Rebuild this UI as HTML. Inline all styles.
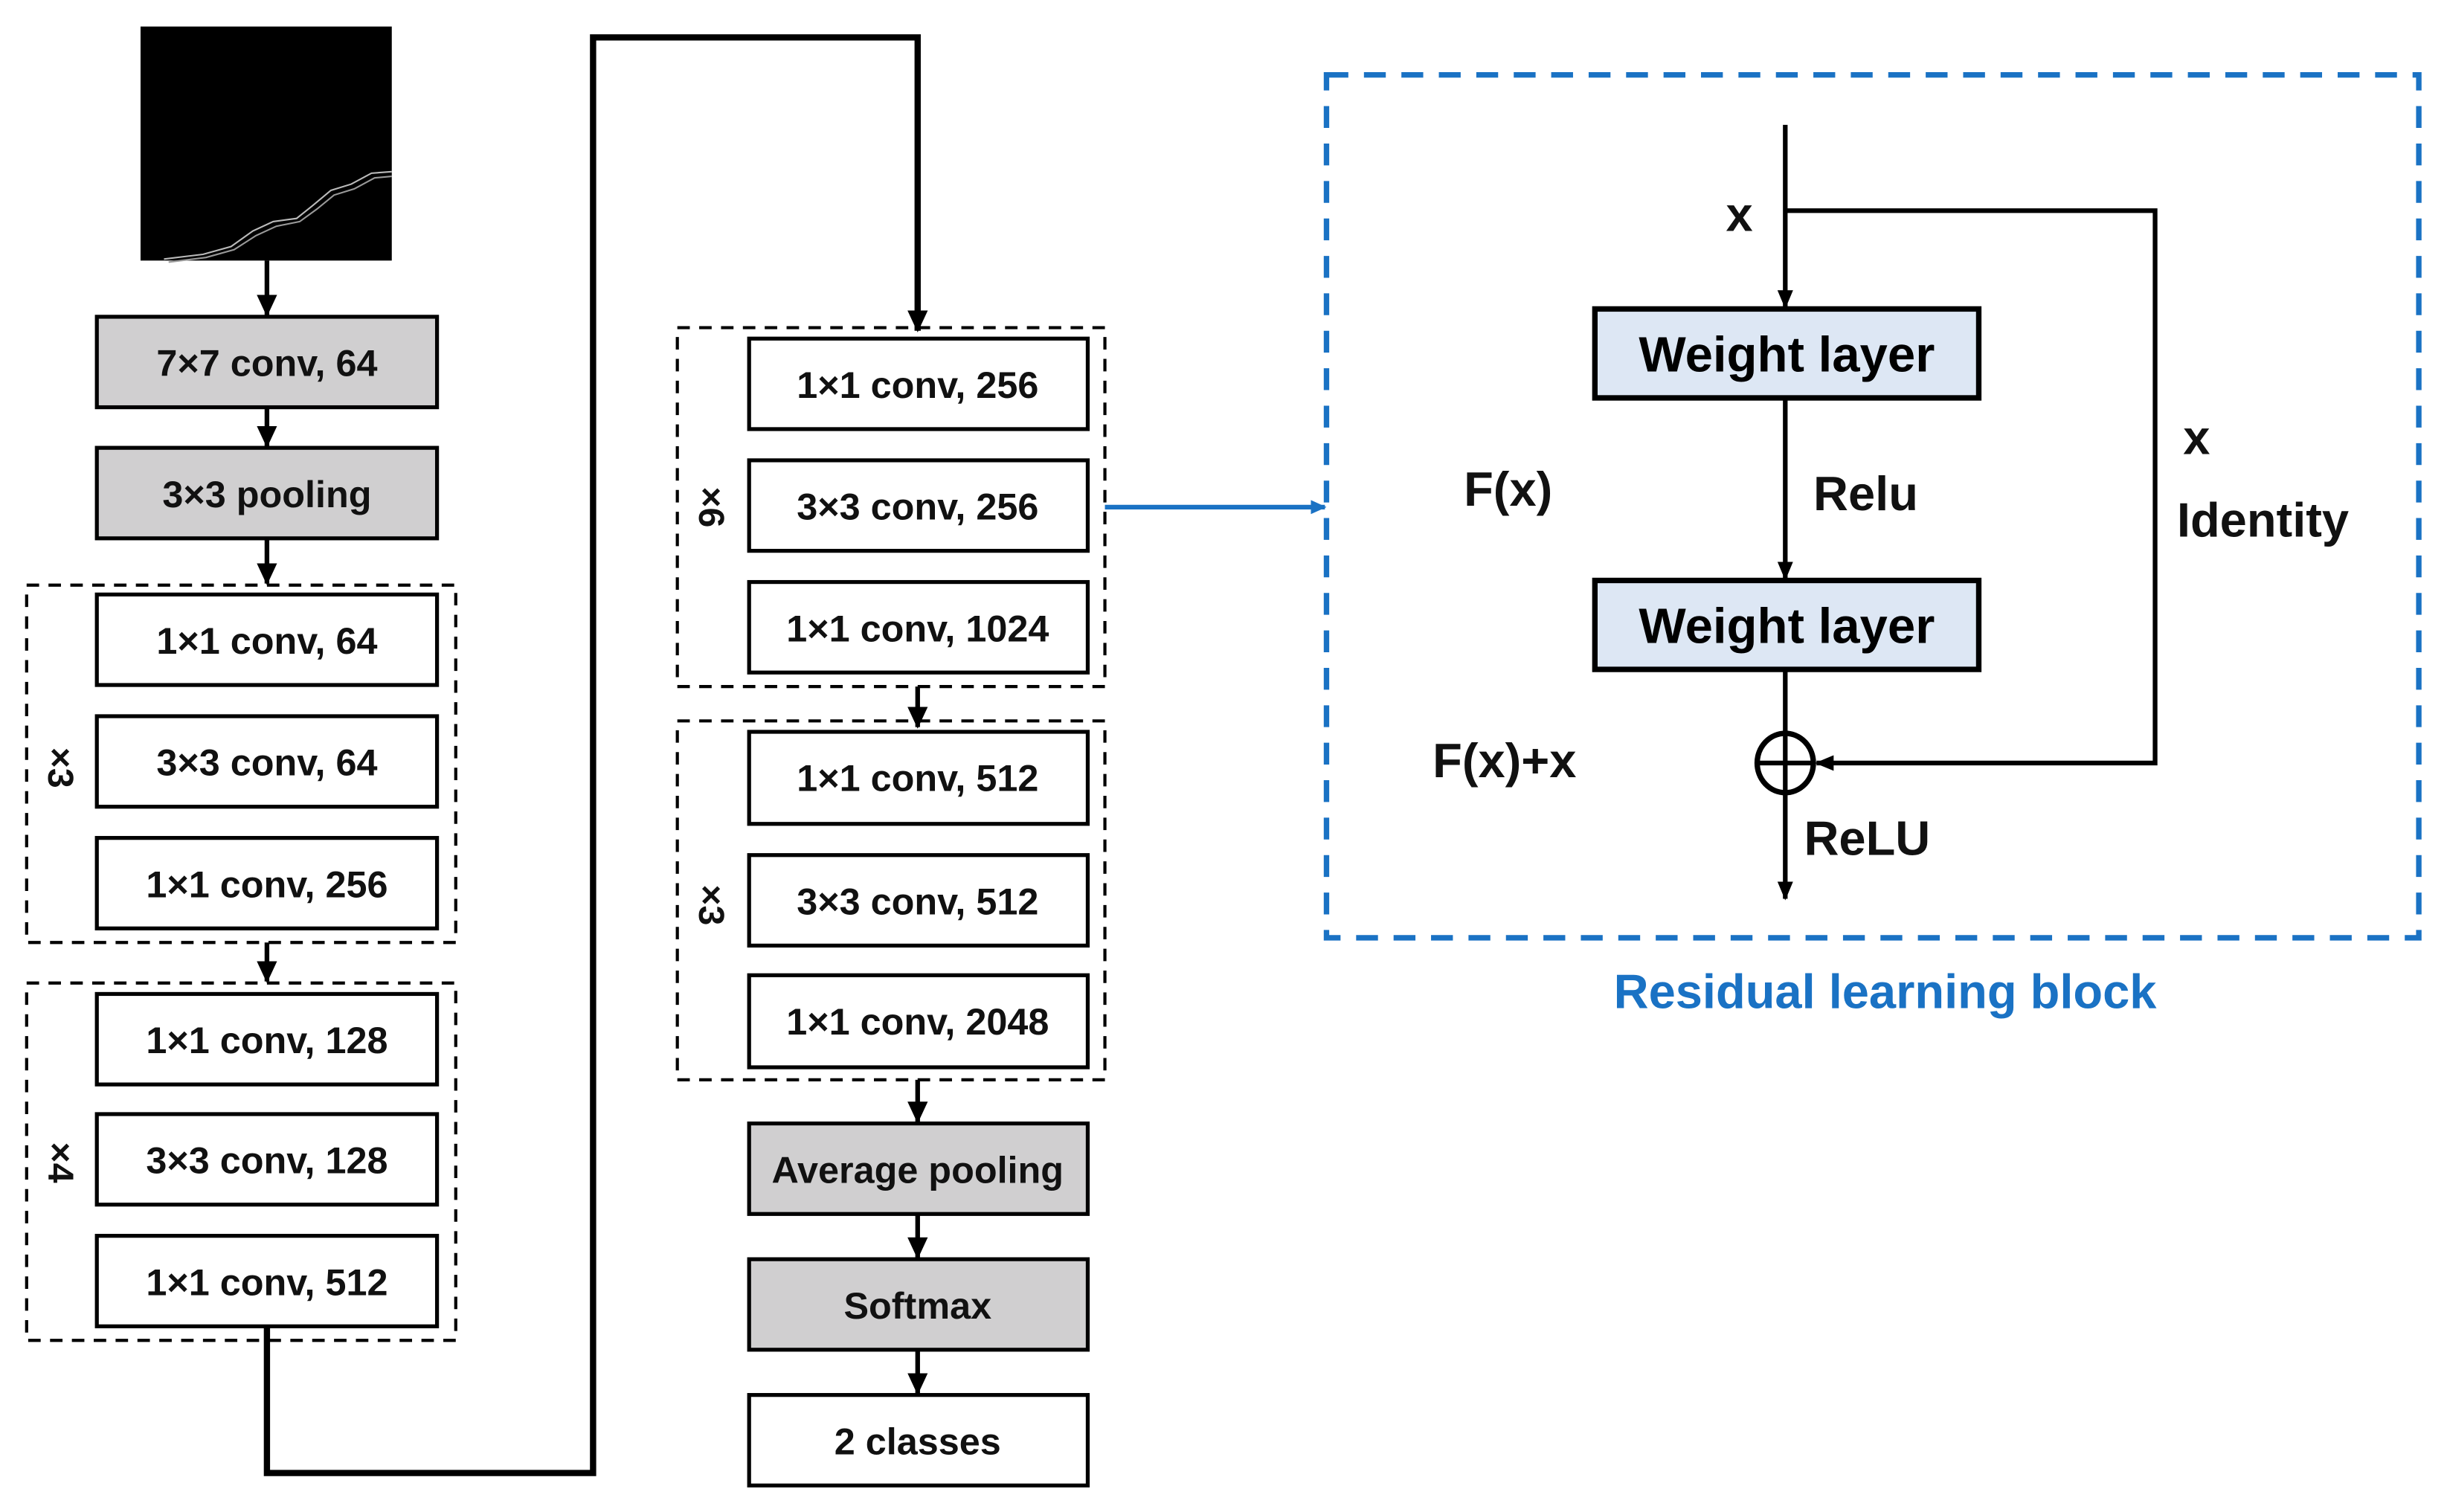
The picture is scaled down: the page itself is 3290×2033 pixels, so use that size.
<!DOCTYPE html>
<html><head><meta charset="utf-8"><style>
html,body{margin:0;padding:0;background:#fff;}
svg{display:block;}
text{font-family:"Liberation Sans",sans-serif;}
</style></head><body>
<svg width="3290" height="2033" viewBox="0 0 1568 969" xmlns="http://www.w3.org/2000/svg">
<defs>
<marker id="a" markerWidth="14" markerHeight="14" refX="13" refY="7" orient="auto" markerUnits="userSpaceOnUse">
<path d="M0,0.5 L14,7 L0,13.5 Z" fill="#000"/></marker>
<marker id="as" markerWidth="12" markerHeight="12" refX="11" refY="6" orient="auto" markerUnits="userSpaceOnUse">
<path d="M0,1 L12,6 L0,11 Z" fill="#000"/></marker>
<marker id="ab" markerWidth="10" markerHeight="10" refX="9" refY="5" orient="auto" markerUnits="userSpaceOnUse">
<path d="M0,0.5 L10,5 L0,9.5 Z" fill="#1a72c4"/></marker>
</defs>
<rect width="1568" height="969" fill="#fff"/>
<rect x="90" y="17" width="161" height="150" fill="#000"/>
<path d="M105,166 L130,163 L148,158 L162,148 L175,142 L190,140 L200,132 L212,122 L225,118 L238,111 L251,110" fill="none" stroke="#bbb" stroke-width="1"/>
<path d="M108,168 L132,165 L150,160 L164,151 L177,145 L192,142 L203,134 L214,125 L227,121 L240,114 L251,113" fill="none" stroke="#999" stroke-width="1"/>

<g stroke="#000" stroke-width="3" fill="none">
<line x1="171" y1="167" x2="171" y2="202" marker-end="url(#a)"/>
<line x1="171" y1="261" x2="171" y2="286" marker-end="url(#a)"/>
<line x1="171" y1="345" x2="171" y2="374" marker-end="url(#a)"/>
<line x1="171" y1="604" x2="171" y2="629" marker-end="url(#a)"/>
<polyline points="171,850 171,944 380,944 380,24 588,24 588,212" stroke-width="4" marker-end="url(#a)"/>
<line x1="588" y1="440" x2="588" y2="466" marker-end="url(#a)"/>
<line x1="588" y1="692" x2="588" y2="719" marker-end="url(#a)"/>
<line x1="588" y1="778" x2="588" y2="806" marker-end="url(#a)"/>
<line x1="588" y1="865" x2="588" y2="893" marker-end="url(#a)"/>
</g>

<g stroke="#000" stroke-width="2" fill="none" stroke-dasharray="8,6">
<rect x="17" y="375" width="275" height="229"/>
<rect x="17" y="630" width="275" height="229"/>
<rect x="434" y="210" width="274" height="230"/>
<rect x="434" y="462" width="274" height="230"/>
</g>

<g stroke="#000" stroke-width="2.5">
<rect x="62" y="203" width="218" height="58" fill="#d0cfd0"/>
<rect x="62" y="287" width="218" height="58" fill="#d0cfd0"/>
<rect x="62" y="381" width="218" height="58" fill="#fff"/>
<rect x="62" y="459" width="218" height="58" fill="#fff"/>
<rect x="62" y="537" width="218" height="58" fill="#fff"/>
<rect x="62" y="637" width="218" height="58" fill="#fff"/>
<rect x="62" y="714" width="218" height="58" fill="#fff"/>
<rect x="62" y="792" width="218" height="58" fill="#fff"/>
<rect x="480" y="217" width="217" height="58" fill="#fff"/>
<rect x="480" y="295" width="217" height="58" fill="#fff"/>
<rect x="480" y="373" width="217" height="58" fill="#fff"/>
<rect x="480" y="469" width="217" height="59" fill="#fff"/>
<rect x="480" y="548" width="217" height="58" fill="#fff"/>
<rect x="480" y="625" width="217" height="59" fill="#fff"/>
<rect x="480" y="720" width="217" height="58" fill="#d0cfd0"/>
<rect x="480" y="807" width="217" height="58" fill="#d0cfd0"/>
<rect x="480" y="894" width="217" height="58" fill="#fff"/>
</g>

<g font-size="24" font-weight="bold" text-anchor="middle" fill="#111">
<text x="171" y="241">7×7 conv, 64</text>
<text x="171" y="325">3×3 pooling</text>
<text x="171" y="419">1×1 conv, 64</text>
<text x="171" y="497">3×3 conv, 64</text>
<text x="171" y="575">1×1 conv, 256</text>
<text x="171" y="675">1×1 conv, 128</text>
<text x="171" y="752">3×3 conv, 128</text>
<text x="171" y="830">1×1 conv, 512</text>
<text x="588" y="255">1×1 conv, 256</text>
<text x="588" y="333">3×3 conv, 256</text>
<text x="588" y="411">1×1 conv, 1024</text>
<text x="588" y="507">1×1 conv, 512</text>
<text x="588" y="586">3×3 conv, 512</text>
<text x="588" y="663">1×1 conv, 2048</text>
<text x="588" y="758">Average pooling</text>
<text x="588" y="845">Softmax</text>
<text x="588" y="932">2 classes</text>
</g>
<g font-size="23" font-weight="bold" text-anchor="middle" fill="#111">
<text transform="translate(31,492) rotate(90)" x="0" y="0">×3</text>
<text transform="translate(31,745) rotate(90)" x="0" y="0">×4</text>
<text transform="translate(448,325) rotate(90)" x="0" y="0">×6</text>
<text transform="translate(448,580) rotate(90)" x="0" y="0">×3</text>
</g>

<line x1="708" y1="325" x2="849" y2="325" stroke="#1a72c4" stroke-width="3" marker-end="url(#ab)"/>
<rect x="850" y="48" width="700" height="553" fill="none" stroke="#1a72c4" stroke-width="3.5" stroke-dasharray="14,10"/>
<text x="1208" y="646" font-size="31" font-weight="bold" fill="#1a72c4" text-anchor="middle">Residual learning block</text>

<g stroke="#000" stroke-width="3" fill="none">
<line x1="1144" y1="80" x2="1144" y2="197" marker-end="url(#as)"/>
<polyline points="1144,135 1381,135 1381,489 1164,489" marker-end="url(#as)"/>
<line x1="1144" y1="255" x2="1144" y2="371" marker-end="url(#as)"/>
<line x1="1144" y1="429" x2="1144" y2="576" marker-end="url(#as)"/>
<ellipse cx="1144" cy="489" rx="18" ry="19" stroke-width="3.5"/>
<line x1="1126" y1="489" x2="1162" y2="489"/>
</g>
<rect x="1022" y="198" width="246" height="57" fill="#dde7f4" stroke="#000" stroke-width="3.5"/>
<rect x="1022" y="372" width="246" height="57" fill="#dde7f4" stroke="#000" stroke-width="3.5"/>
<g font-size="32" font-weight="bold" fill="#000" text-anchor="middle">
<text x="1145" y="238">Weight layer</text>
<text x="1145" y="412">Weight layer</text>
</g>
<g font-size="31" font-weight="bold" fill="#111">
<text x="1106" y="148">x</text>
<text x="938" y="324">F(x)</text>
<text x="1162" y="327">Relu</text>
<text x="1399" y="291">x</text>
<text x="1395" y="344">Identity</text>
<text x="918" y="498">F(x)+x</text>
<text x="1156" y="548">ReLU</text>
</g>
</svg>
</body></html>
